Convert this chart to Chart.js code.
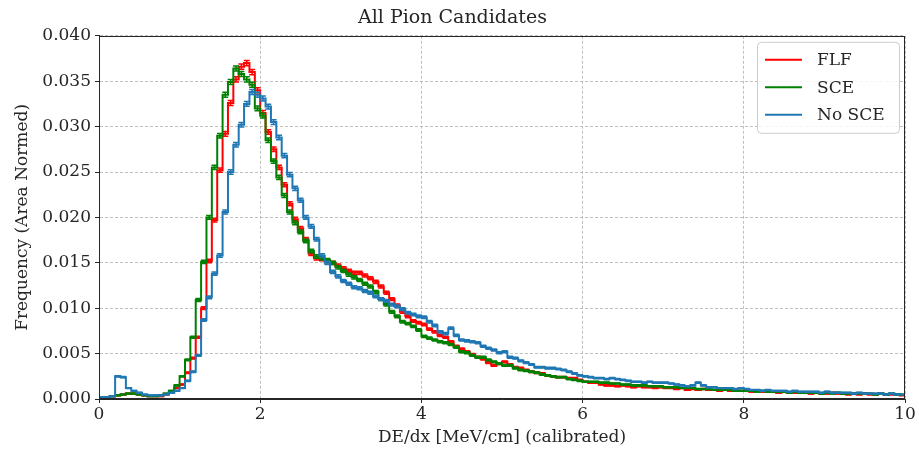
<!DOCTYPE html>
<html>
<head>
<meta charset="utf-8">
<title>All Pion Candidates</title>
<script src="https://cdn.jsdelivr.net/npm/chart.js@4.4.0/dist/chart.umd.min.js"></script>
<style>
  html, body { margin: 0; padding: 0; background: #fff; }
</style>
</head>
<body>
<canvas id="dedxChart" width="919" height="449"></canvas>
<script>
// 150 bins from 0 to 10 MeV/cm, area normalised
const binWidth = 1 / 15;

const flf = [
  0.0001, 0.0002, 0.0003, 0.0004, 0.0005, 0.0006, 0.0006, 0.0005, 0.0004, 0.0003,
  0.0003, 0.0003, 0.0005, 0.0008, 0.0012, 0.0016, 0.0029, 0.0045, 0.0068, 0.0100,
  0.0152, 0.0197, 0.0252, 0.0292, 0.0326, 0.0352, 0.0366, 0.0370, 0.0360, 0.0340,
  0.0315, 0.0294, 0.0275, 0.0255, 0.0236, 0.0215, 0.0198, 0.0188, 0.0176, 0.0160,
  0.0155, 0.0154, 0.0152, 0.0150, 0.0147, 0.0144, 0.0141, 0.0139, 0.0139, 0.0136,
  0.0133, 0.0129, 0.0124, 0.0117, 0.0110, 0.0103, 0.0096, 0.0091, 0.0086, 0.0084,
  0.0082, 0.0077, 0.0074, 0.0070, 0.0068, 0.0063, 0.0058, 0.0055, 0.0052, 0.0049,
  0.0046, 0.0044, 0.0040, 0.0037, 0.0039, 0.0041, 0.0038, 0.0035, 0.0034, 0.0032,
  0.0030, 0.0029, 0.0028, 0.0026, 0.0025, 0.0024, 0.0024, 0.0023, 0.0023, 0.0021,
  0.0019, 0.0018, 0.0018, 0.0016, 0.0015, 0.0015, 0.0014, 0.0015, 0.0014, 0.0013,
  0.0014, 0.0013, 0.0013, 0.0012, 0.0013, 0.0012, 0.0012, 0.0011, 0.0012, 0.0010,
  0.0011, 0.0010, 0.0011, 0.0010, 0.0010, 0.0009, 0.0010, 0.0009, 0.0009, 0.0009,
  0.0009, 0.0008, 0.0009, 0.0008, 0.0008, 0.0008, 0.0007, 0.0008, 0.0007, 0.0007,
  0.0007, 0.0007, 0.0006, 0.0007, 0.0006, 0.0006, 0.0007, 0.0006, 0.0006, 0.0005,
  0.0006, 0.0005, 0.0006, 0.0005, 0.0005, 0.0006, 0.0005, 0.0005, 0.0005, 0.0004
];

const sce = [
  0.0002, 0.0002, 0.0003, 0.0004, 0.0005, 0.0006, 0.0006, 0.0005, 0.0004, 0.0003,
  0.0003, 0.0004, 0.0006, 0.0009, 0.0015, 0.0025, 0.0043, 0.0068, 0.0109, 0.0151,
  0.0200, 0.0255, 0.0290, 0.0335, 0.0349, 0.0364, 0.0358, 0.0352, 0.0346, 0.0320,
  0.0312, 0.0285, 0.0262, 0.0244, 0.0224, 0.0206, 0.0194, 0.0184, 0.0174, 0.0163,
  0.0157, 0.0155, 0.0153, 0.0150, 0.0145, 0.0141, 0.0137, 0.0134, 0.0131, 0.0127,
  0.0124, 0.0118, 0.0110, 0.0104, 0.0096, 0.0091, 0.0085, 0.0083, 0.0080, 0.0076,
  0.0069, 0.0067, 0.0065, 0.0063, 0.0062, 0.0060, 0.0057, 0.0052, 0.0051, 0.0048,
  0.0046, 0.0046, 0.0043, 0.0041, 0.0039, 0.0037, 0.0037, 0.0034, 0.0032, 0.0031,
  0.0030, 0.0029, 0.0027, 0.0026, 0.0025, 0.0024, 0.0024, 0.0022, 0.0021, 0.0020,
  0.0019, 0.0019, 0.0019, 0.0018, 0.0018, 0.0017, 0.0017, 0.0016, 0.0016, 0.0015,
  0.0015, 0.0015, 0.0014, 0.0014, 0.0014, 0.0013, 0.0013, 0.0013, 0.0012, 0.0012,
  0.0012, 0.0011, 0.0011, 0.0011, 0.0010, 0.0010, 0.0010, 0.0010, 0.0009, 0.0009,
  0.0009, 0.0009, 0.0008, 0.0009, 0.0008, 0.0008, 0.0008, 0.0008, 0.0007, 0.0008,
  0.0007, 0.0007, 0.0007, 0.0007, 0.0006, 0.0007, 0.0006, 0.0007, 0.0006, 0.0006,
  0.0006, 0.0006, 0.0006, 0.0006, 0.0005, 0.0006, 0.0005, 0.0006, 0.0005, 0.0005
];

const noSce = [
  0.0002, 0.0002, 0.0003, 0.0025, 0.0024, 0.0012, 0.0009, 0.0007, 0.0005, 0.0004,
  0.0004, 0.0004, 0.0005, 0.0007, 0.0009, 0.0012, 0.0020, 0.0030, 0.0048, 0.0087,
  0.0112, 0.0138, 0.0158, 0.0206, 0.0250, 0.0280, 0.0302, 0.0325, 0.0338, 0.0335,
  0.0331, 0.0322, 0.0305, 0.0288, 0.0268, 0.0247, 0.0232, 0.0219, 0.0200, 0.0190,
  0.0176, 0.0158, 0.0150, 0.0140, 0.0135, 0.0130, 0.0127, 0.0123, 0.0122, 0.0119,
  0.0117, 0.0113, 0.0110, 0.0108, 0.0104, 0.0102, 0.0099, 0.0095, 0.0093, 0.0091,
  0.0090, 0.0085, 0.0081, 0.0074, 0.0072, 0.0078, 0.0070, 0.0065, 0.0064, 0.0063,
  0.0062, 0.0058, 0.0056, 0.0054, 0.0051, 0.0052, 0.0046, 0.0045, 0.0042, 0.0040,
  0.0038, 0.0035, 0.0035, 0.0034, 0.0034, 0.0033, 0.0032, 0.0030, 0.0028, 0.0026,
  0.0025, 0.0024, 0.0023, 0.0023, 0.0022, 0.0023, 0.0022, 0.0021, 0.0020, 0.0019,
  0.0019, 0.0018, 0.0019, 0.0018, 0.0018, 0.0018, 0.0017, 0.0016, 0.0015, 0.0014,
  0.0015, 0.0018, 0.0015, 0.0013, 0.0013, 0.0012, 0.0012, 0.0012, 0.0011, 0.0012,
  0.0011, 0.0010, 0.0010, 0.0009, 0.0010, 0.0009, 0.0009, 0.0009, 0.0008, 0.0009,
  0.0008, 0.0008, 0.0008, 0.0008, 0.0007, 0.0008, 0.0007, 0.0007, 0.0007, 0.0007,
  0.0006, 0.0007, 0.0006, 0.0006, 0.0006, 0.0006, 0.0005, 0.0006, 0.0005, 0.0005
];

const xTickValues = [0, 2, 4, 6, 8, 10];
const yTickValues = [0, 0.005, 0.010, 0.015, 0.020, 0.025, 0.030, 0.035, 0.040];

// statistical error per bin goes as sqrt(content)
const errScale = 2.2e-6;

const serif = "'DejaVu Serif', serif";
const ink = '#262626';

function toPoints(values) {
    return values.map((v, i) => ({ x: (i + 0.5) * binWidth, y: v }));
}

function makeSeries(label, values, color, order) {
    return {
        label: label,
        data: toPoints(values),
        errors: values.map(v => Math.sqrt(v * errScale)),
        borderColor: color,
        backgroundColor: color,
        borderWidth: 2,
        stepped: 'middle',
        pointRadius: 0,
        fill: false,
        order: order,
    };
}

const errorBars = {
    id: 'errorBars',
    afterDatasetDraw(chart, args) {
        const ds = chart.data.datasets[args.index];
        const y = chart.scales.y;
        const ctx = chart.ctx;
        const area = chart.chartArea;
        ctx.save();
        ctx.beginPath();
        ctx.rect(area.left, area.top, area.right - area.left, area.bottom - area.top);
        ctx.clip();
        ctx.strokeStyle = ds.borderColor;
        ctx.lineWidth = 1.5;
        ctx.beginPath();
        args.meta.data.forEach((pt, i) => {
            const v = ds.data[i].y;
            const e = ds.errors[i];
            const top = y.getPixelForValue(v + e);
            const bot = y.getPixelForValue(v - e);
            ctx.moveTo(pt.x, top);
            ctx.lineTo(pt.x, bot);
            ctx.moveTo(pt.x - 3, top);
            ctx.lineTo(pt.x + 3, top);
            ctx.moveTo(pt.x - 3, bot);
            ctx.lineTo(pt.x + 3, bot);
        });
        ctx.stroke();
        ctx.restore();
    }
};

const frameAndLegend = {
    id: 'frameAndLegend',
    afterDatasetsDraw(chart) {
        const a = chart.chartArea;
        const ctx = chart.ctx;
        ctx.save();
        ctx.strokeStyle = ink;
        ctx.lineWidth = 1;
        ctx.strokeRect(Math.round(a.left) + 0.5, Math.round(a.top) + 0.5,
            Math.round(a.right - a.left) - 1, Math.round(a.bottom - a.top) - 1);
        ctx.restore();
    },
    afterDraw(chart) {
        const ctx = chart.ctx;
        const a = chart.chartArea;
        const boxW = 142, boxH = 91;
        const bx = a.right - 6 - boxW, by = a.top + 6;
        ctx.save();
        ctx.fillStyle = 'rgba(255,255,255,0.85)';
        ctx.strokeStyle = '#cccccc';
        ctx.lineWidth = 1;
        ctx.beginPath();
        ctx.roundRect(bx + 0.5, by + 0.5, boxW, boxH, 4);
        ctx.fill();
        ctx.stroke();
        ctx.font = '17px ' + serif;
        ctx.textBaseline = 'middle';
        ctx.fillStyle = ink;
        chart.data.datasets.forEach((ds, i) => {
            const ly = by + 18 + i * 27.5;
            ctx.strokeStyle = ds.borderColor;
            ctx.lineWidth = 2;
            ctx.beginPath();
            ctx.moveTo(bx + 8, ly);
            ctx.lineTo(bx + 45, ly);
            ctx.stroke();
            ctx.fillText(ds.label, bx + 60, ly + 1);
        });
        ctx.restore();
    }
};

function fixedTicks(values) {
    return scale => { scale.ticks = values.map(v => ({ value: v })); };
}

new Chart(document.getElementById('dedxChart'), {
    type: 'line',
    data: {
        datasets: [
            makeSeries('FLF', flf, '#ff0000', 2),
            makeSeries('SCE', sce, '#008000', 1),
            makeSeries('No SCE', noSce, '#1f77b4', 0),
        ],
    },
    options: {
        responsive: false,
        animation: false,
        events: [],
        layout: { padding: { left: 0, right: 14, top: 0, bottom: 0 } },
        plugins: {
            legend: { display: false },
            tooltip: { enabled: false },
            title: {
                display: true,
                text: 'All Pion Candidates',
                color: ink,
                font: { family: serif, size: 19, weight: 'normal' },
                padding: { top: 7, bottom: 6 },
            },
        },
        scales: {
            x: {
                type: 'linear',
                min: 0,
                max: 10,
                afterBuildTicks: fixedTicks(xTickValues),
                afterFit: scale => { scale.height = 50; },
                grid: {
                    color: '#b0b0b0',
                    lineWidth: 0.8,
                    tickColor: ink,
                    tickLength: 4,
                    tickWidth: 1,
                },
                border: { display: true, color: ink, width: 1, dash: [3, 2] },
                ticks: {
                    color: ink,
                    font: { family: serif, size: 17 },
                    padding: 1,
                    maxRotation: 0,
                    callback: v => String(v),
                },
                title: {
                    display: true,
                    text: 'DE/dx [MeV/cm] (calibrated)',
                    color: ink,
                    font: { family: serif, size: 17 },
                    padding: { top: 0, bottom: 1 },
                },
            },
            y: {
                type: 'linear',
                min: 0,
                max: 0.04,
                afterBuildTicks: fixedTicks(yTickValues),
                afterFit: scale => { scale.width = 99; },
                grid: {
                    color: '#b0b0b0',
                    lineWidth: 0.8,
                    tickColor: ink,
                    tickLength: 4,
                    tickWidth: 1,
                },
                border: { display: true, color: ink, width: 1, dash: [3, 2] },
                ticks: {
                    color: ink,
                    font: { family: serif, size: 17 },
                    padding: 4,
                    callback: v => v.toFixed(3),
                },
                title: {
                    display: true,
                    text: 'Frequency (Area Normed)',
                    color: ink,
                    font: { family: serif, size: 17 },
                    padding: { top: 12, bottom: 0 },
                },
            },
        },
    },
    plugins: [errorBars, frameAndLegend],
});
</script>
</body>
</html>
